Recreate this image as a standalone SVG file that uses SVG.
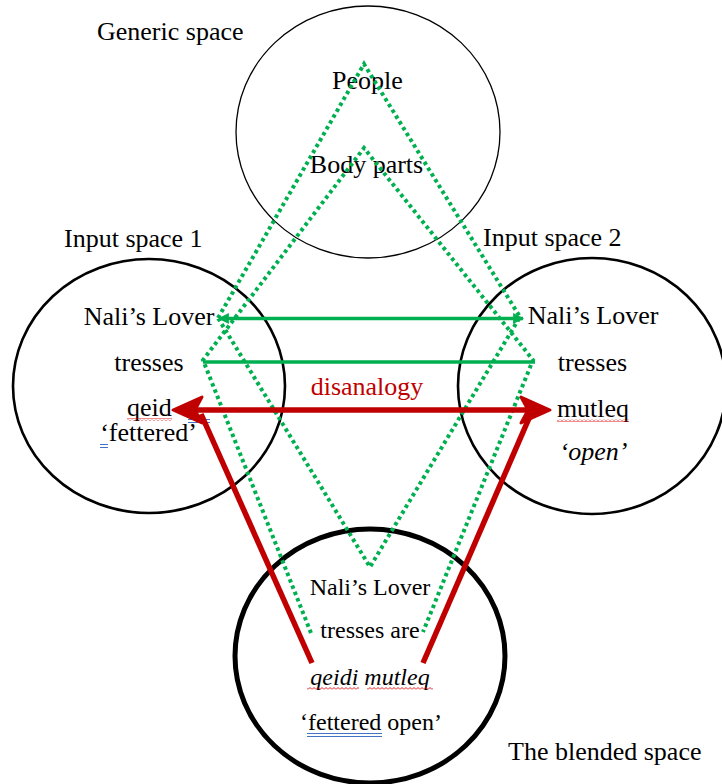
<svg xmlns="http://www.w3.org/2000/svg" width="722" height="784" viewBox="0 0 722 784">
<style>
text{font-family:"Liberation Serif","Times New Roman",serif;font-size:26px;fill:#000}
.c{text-anchor:middle}
.s{font-size:24px}
.it{font-style:italic}
.red{fill:#C00000}
.dot{fill:none;stroke:#00B050;stroke-width:4;stroke-dasharray:3.5 3.3}
.gl{stroke:#00B050;stroke-width:3.5;fill:none}
.rl{stroke:#C00000;stroke-width:5.5;fill:none}
.ah{fill:#C00000;stroke:#C00000;stroke-width:3;stroke-linejoin:round}
.bu{stroke:#4472C4;stroke-width:1}
</style>
<defs>
<marker id="ga" markerUnits="userSpaceOnUse" viewBox="0 0 10 10" refX="9" refY="5" markerWidth="11" markerHeight="11" orient="auto-start-reverse">
<path d="M0,0 L10,5 L0,10 z" fill="#00B050"/>
</marker>
<pattern id="wave" patternUnits="userSpaceOnUse" width="4" height="3">
<path d="M0,2.5 L2,0.5 L4,2.5" stroke="#E00000" stroke-width="0.9" fill="none"/>
</pattern>
</defs>
<rect width="722" height="784" fill="#fff"/>

<g id="generic">
<ellipse cx="368" cy="132" rx="132" ry="126" fill="none" stroke="#000" stroke-width="1.3"/>
<text x="97" y="40">Generic space</text>
<text class="c" x="367.5" y="89">People</text>
<text class="c" x="366.5" y="173">Body parts</text>
</g>

<g id="input1">
<ellipse cx="149" cy="386" rx="136" ry="127" fill="none" stroke="#000" stroke-width="2.6"/>
<text x="64" y="247">Input space 1</text>
<text class="c" x="149" y="325">Nali’s Lover</text>
<text class="c" x="149" y="371">tresses</text>
<text x="127" y="416">qeid</text>
<rect x="127" y="418" width="45" height="3" fill="url(#wave)"/>
<line class="bu" x1="188" y1="419.5" x2="210" y2="419.5"/>
<line class="bu" x1="188" y1="422.5" x2="210" y2="422.5"/>
<text class="c" x="148.5" y="441">‘fettered’</text>
<line class="bu" x1="100" y1="444.5" x2="108" y2="444.5"/>
<line class="bu" x1="100" y1="447.5" x2="108" y2="447.5"/>
</g>

<g id="input2">
<ellipse cx="592" cy="386" rx="134" ry="128" fill="none" stroke="#000" stroke-width="2.6"/>
<text x="483" y="246">Input space 2</text>
<text class="c" x="593" y="324">Nali’s Lover</text>
<text class="c" x="592.5" y="371">tresses</text>
<text class="c" x="593" y="417">mutleq</text>
<rect x="557" y="419" width="72" height="3" fill="url(#wave)"/>
<text class="c it" x="593.5" y="460">‘open’</text>
</g>

<g id="blend">
<ellipse cx="370" cy="656" rx="135" ry="127" fill="none" stroke="#000" stroke-width="5"/>
<text class="c s" x="370" y="595">Nali’s Lover</text>
<text class="c s" x="370" y="638">tresses are</text>
<text class="c s it" x="370" y="685">qeidi mutleq</text>
<rect x="307" y="687" width="52" height="3" fill="url(#wave)"/>
<rect x="367" y="687" width="66" height="3" fill="url(#wave)"/>
<text class="c s" x="371" y="730">‘fettered open’</text>
<line class="bu" x1="307" y1="733.5" x2="382" y2="733.5"/>
<line class="bu" x1="307" y1="736.5" x2="382" y2="736.5"/>
<text x="508" y="760">The blended space</text>
</g>

<g id="connectors">
<path class="dot" d="M218,318 L364,64 L520,317 L370,567 Z"/>
<path class="dot" d="M311,633 L203,360 L364,148 L533,360 L423,632"/>
<line class="gl" x1="219" y1="318.5" x2="523" y2="318.5" marker-start="url(#ga)" marker-end="url(#ga)"/>
<line class="gl" x1="203" y1="362" x2="535" y2="362"/>
<line class="rl" x1="190" y1="410" x2="535" y2="410"/>
<line class="rl" x1="312" y1="663" x2="201" y2="414"/>
<line class="rl" x1="423" y1="663" x2="530" y2="416"/>
<path class="ah" d="M173,410 L202,397 L195,410 L202,423 Z"/>
<path class="ah" d="M550,410 L521,397 L528,410 L521,423 Z"/>
<text class="c red" x="367" y="395">disanalogy</text>
</g>
</svg>
